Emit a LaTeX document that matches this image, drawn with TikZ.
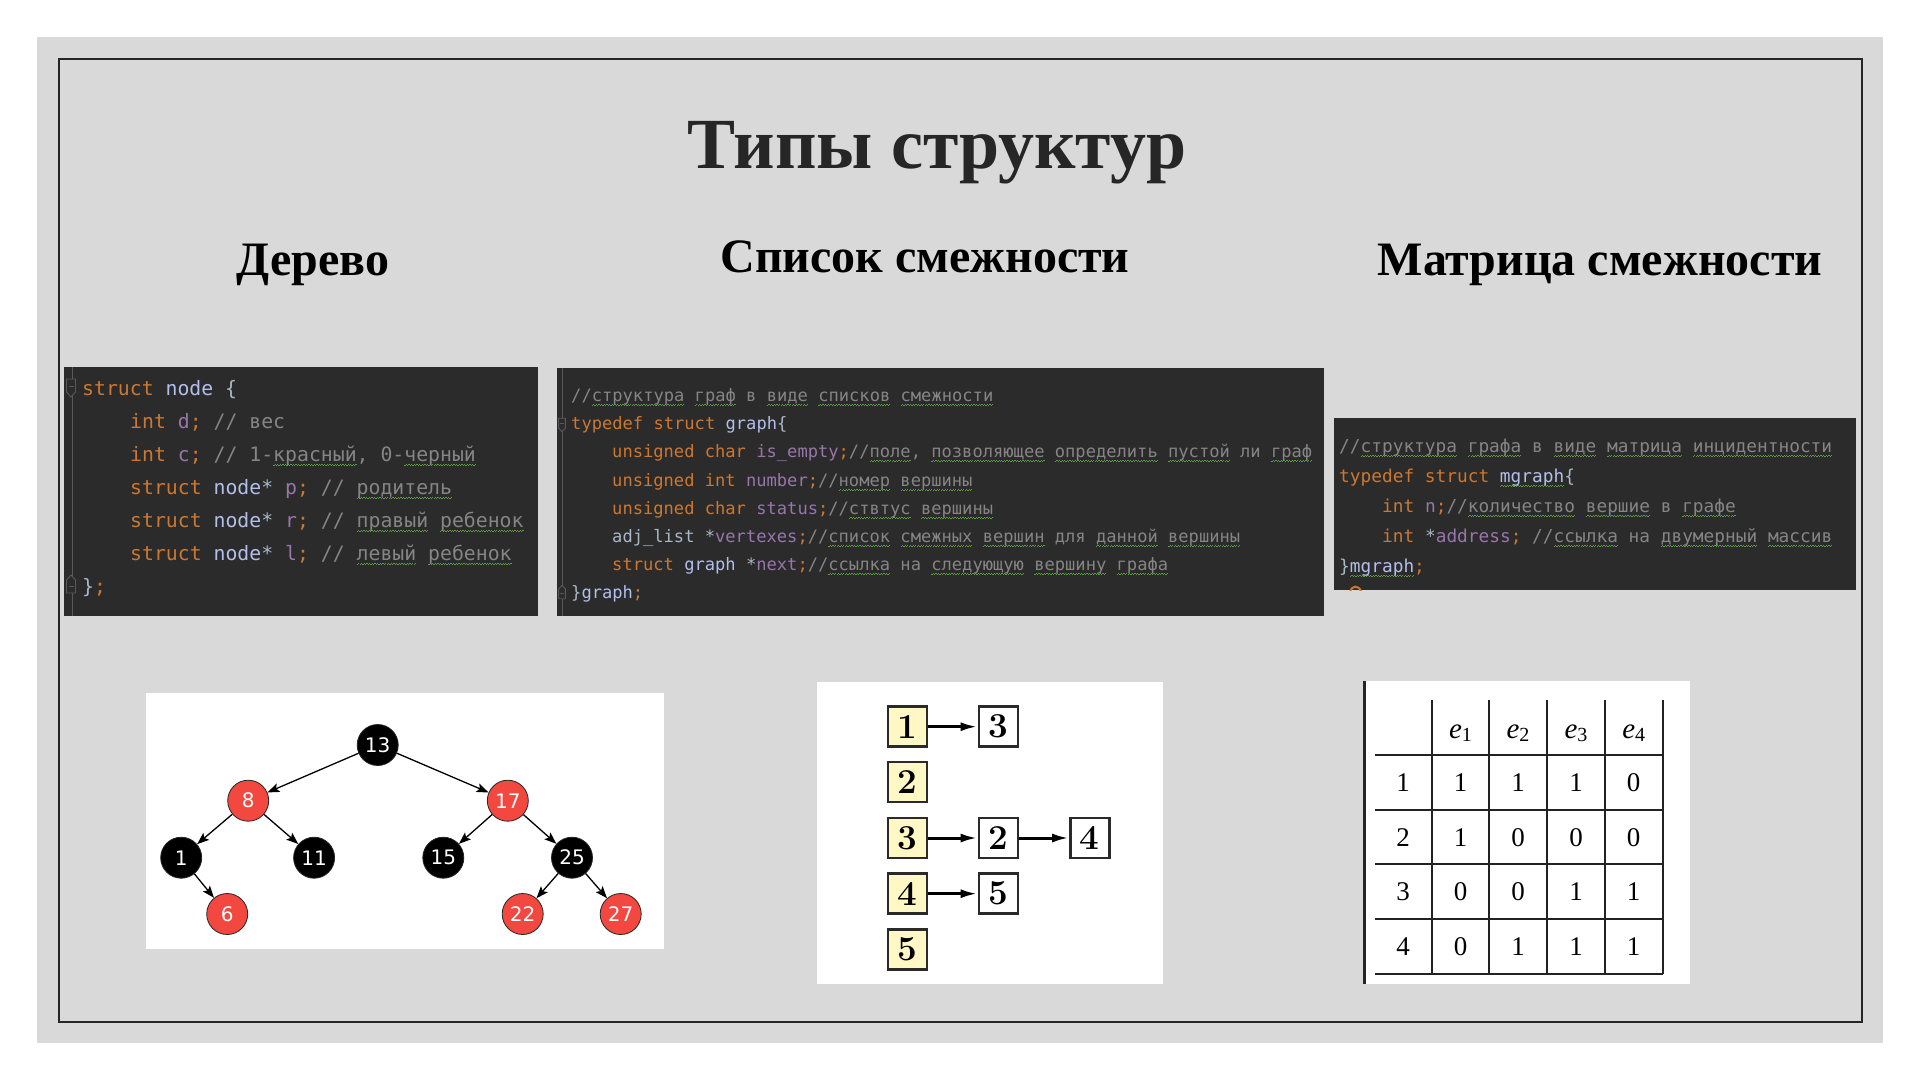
\documentclass[tikz,border=0pt]{standalone}
\usepackage{fontspec}
\usetikzlibrary{arrows.meta}
\newfontfamily\tnr{Liberation Serif}
\newfontfamily\codefont{DejaVu Sans Mono}
\newfontfamily\treefont{DejaVu Sans}
\definecolor{slidegray}{HTML}{D9D9D9}
\definecolor{framecol}{HTML}{262626}
\definecolor{codebg}{HTML}{2B2B2B}
\definecolor{kwc}{HTML}{CC7832}
\definecolor{tyc}{HTML}{B3BFEA}
\definecolor{fdc}{HTML}{9876AA}
\definecolor{cmc}{HTML}{858585}
\definecolor{txc}{HTML}{A9B7C6}
\definecolor{sqc}{HTML}{5F9A45}
\definecolor{gutterc}{HTML}{595959}
\definecolor{treered}{HTML}{F24840}
\definecolor{listyellow}{HTML}{FFF7C4}
\definecolor{boxline}{HTML}{2A2A2A}
\definecolor{gridcol}{HTML}{222222}
% syntax colouring helpers
\newcommand\kw[1]{\textcolor{kwc}{#1}}
\newcommand\ty[1]{\textcolor{tyc}{#1}}
\newcommand\fd[1]{\textcolor{fdc}{#1}}
\newcommand\cm[1]{\textcolor{cmc}{#1}}
\newcommand\tx[1]{\textcolor{txc}{#1}}
% spell-check style wavy underline, built from tiny alternating rules
\newcommand\wavebit{\hbox{\rule[-4.6pt]{1.3pt}{1.1pt}\rule[-3.6pt]{1.3pt}{1.1pt}}}
\newcommand\sq[1]{\setbox0=\hbox{#1}%
  \rlap{\textcolor{sqc}{\hbox to \wd0{\xleaders\wavebit\hfil}}}\box0\relax}
\tikzset{
  codeline/.style={anchor=base west, inner sep=0pt},
  cA/.style={codeline, font=\codefont\fontsize{19.8}{20}\selectfont},
  cB/.style={codeline, font=\codefont\fontsize{17.1}{18}\selectfont},
  cC/.style={codeline, font=\codefont\fontsize{17.8}{18}\selectfont},
  heading/.style={anchor=base, inner sep=0pt, font=\tnr\bfseries\fontsize{48}{50}\selectfont, text=black},
  rb/.style={circle, draw=black!85, line width=0.8pt, fill=treered, minimum size=41pt,
    inner sep=0pt, text=white, font=\treefont\fontsize{20}{20}\selectfont},
  bk/.style={rb, fill=black},
  tedge/.style={line width=1.3pt, -{Stealth[length=12pt,width=9pt,inset=2.5pt]}},
  headbox/.style={draw=boxline, line width=2.5pt, fill=listyellow, minimum width=39pt,
    minimum height=40pt, inner sep=0pt, font=\bfseries\fontsize{35}{35}\selectfont},
  cellbox/.style={headbox, fill=white},
  ledge/.style={line width=3pt, -{Latex[length=17pt,width=9pt]}},
  grid/.style={draw=gridcol, line width=1.8pt},
  num/.style={inner sep=0pt, font=\tnr\fontsize{27}{27}\selectfont},
  foldopen/.pic={
    \filldraw[draw=gutterc, fill=codebg, line width=0.9pt]
      (-4.5,-9) -- (4.5,-9) -- (4.5,4) -- (0,9) -- (-4.5,4) -- cycle;
    \draw[gutterc, line width=0.9pt] (-2.5,-2) -- (2.5,-2);},
  foldclose/.pic={
    \filldraw[draw=gutterc, fill=codebg, line width=0.9pt]
      (-4.5,9) -- (4.5,9) -- (4.5,-4) -- (0,-9) -- (-4.5,-4) -- cycle;
    \draw[gutterc, line width=0.9pt] (-2.5,2) -- (2.5,2);}
}
\begin{document}
\begin{tikzpicture}[x=1pt, y=-1pt]
\useasboundingbox (0,0) rectangle (1920,1080);
\fill[white] (0,0) rectangle (1920,1080);
\fill[slidegray] (37,37) rectangle (1883,1043);
\draw[framecol, line width=2pt] (59,59) rectangle (1862,1022);

% headings
\node[anchor=base, inner sep=0pt, font=\tnr\bfseries\fontsize{72}{76}\selectfont, text=framecol]
  (title) at (937,168) {Типы структур};
\node[heading] (hTree) at (313,275) {Дерево};
\node[heading] (hList) at (925,272) {Список смежности};
\node[heading] (hMat) at (1600,275) {Матрица смежности};

% ---- code: tree node ----
\fill[codebg] (64,367) rectangle (538,616);
\draw[gutterc, line width=1pt] (72,367) -- (72,616);
\pic at (71,388) {foldopen};
\pic at (71,584) {foldclose};
\node[cA] (a1) at (82,395)  {\kw{struct} \ty{node} \tx{\{}};
\node[cA] (a2) at (130,428) {\kw{int} \fd{d}\kw{;} \cm{// вес}};
\node[cA] (a3) at (130,461) {\kw{int} \fd{c}\kw{;} \cm{// 1-\sq{красный}, 0-\sq{черный}}};
\node[cA] (a4) at (130,494) {\kw{struct} \ty{node}\tx{*} \fd{p}\kw{;} \cm{// \sq{родитель}}};
\node[cA] (a5) at (130,527) {\kw{struct} \ty{node}\tx{*} \fd{r}\kw{;} \cm{// \sq{правый} \sq{ребенок}}};
\node[cA] (a6) at (130,560) {\kw{struct} \ty{node}\tx{*} \fd{l}\kw{;} \cm{// \sq{левый} \sq{ребенок}}};
\node[cA] (a7) at (82,593)  {\tx{\}}\kw{;}};

% ---- code: adjacency list ----
\fill[codebg] (557,368) rectangle (1324,616);
\draw[gutterc, line width=1pt] (562,368) -- (562,616);
\pic[scale=0.75] at (562,425) {foldopen};
\pic[scale=0.75] at (562,592) {foldclose};
\node[cB] (b1) at (571,401) {\cm{//\sq{структура} \sq{граф} в \sq{виде} \sq{списков} \sq{смежности}}};
\node[cB] (b2) at (571,429) {\kw{typedef struct} \ty{graph}\tx{\{}};
\node[cB] (b3) at (612,457) {\kw{unsigned char} \fd{is\_empty}\kw{;}\cm{//\sq{поле}, \sq{позволяющее} \sq{определить} \sq{пустой} ли \sq{граф}}};
\node[cB] (b4) at (612,486) {\kw{unsigned int} \fd{number}\kw{;}\cm{//\sq{номер} \sq{вершины}}};
\node[cB] (b5) at (612,514) {\kw{unsigned char} \fd{status}\kw{;}\cm{//\sq{ствтус} \sq{вершины}}};
\node[cB] (b6) at (612,542) {\tx{adj\_list *}\fd{vertexes}\kw{;}\cm{//\sq{список} \sq{смежных} \sq{вершин} для \sq{данной} \sq{вершины}}};
\node[cB] (b7) at (612,570) {\kw{struct} \ty{graph} \tx{*}\fd{next}\kw{;}\cm{//\sq{ссылка} на \sq{следующую} \sq{вершину} \sq{графа}}};
\node[cB] (b8) at (571,598) {\tx{\}}\ty{graph}\kw{;}};

% ---- code: adjacency matrix ----
\fill[codebg] (1334,418) rectangle (1856,590);
\node[cC] (m1) at (1339,452) {\cm{//\sq{структура} \sq{графа} в \sq{виде} \sq{матрица} \sq{инцидентности}}};
\node[cC] (m2) at (1339,482) {\kw{typedef struct} \sq{\ty{mgraph}}\tx{\{}};
\node[cC] (m3) at (1382,512) {\kw{int} \fd{n}\kw{;}\cm{//\sq{количество} \sq{вершие} в \sq{графе}}};
\node[cC] (m4) at (1382,542) {\kw{int} \tx{*}\fd{address}\kw{;} \cm{//\sq{ссылка} на \sq{двумерный} \sq{массив}}};
\node[cC] (m5) at (1339,572) {\tx{\}}\sq{\ty{mgraph}}\kw{;}};
\begin{scope}
  \clip (1334,418) rectangle (1856,590);
  \draw[kwc, line width=2pt] (1350,592) .. controls (1352,585) and (1358,585) .. (1361,591);
\end{scope}

% ---- red-black tree ----
\fill[white] (146,693) rectangle (664,949);
\node[bk] (n13) at (377.7,745) {13};
\node[rb] (n8)  at (248.2,800.7) {8};
\node[rb] (n17) at (507.8,800.7) {17};
\node[bk] (n1)  at (181.2,857.7) {1};
\node[bk] (n11) at (314.1,857.7) {11};
\node[bk] (n15) at (443.3,857.7) {15};
\node[bk] (n25) at (572,857.7) {25};
\node[rb] (n6)  at (227.2,914) {6};
\node[rb] (n22) at (522.7,914) {22};
\node[rb] (n27) at (620.7,914) {27};
\draw[tedge] (n13) -- (n8);
\draw[tedge] (n13) -- (n17);
\draw[tedge] (n8) -- (n1);
\draw[tedge] (n8) -- (n11);
\draw[tedge] (n17) -- (n15);
\draw[tedge] (n17) -- (n25);
\draw[tedge] (n1) -- (n6);
\draw[tedge] (n25) -- (n22);
\draw[tedge] (n25) -- (n27);

% ---- adjacency lists ----
\fill[white] (817,682) rectangle (1163,984);
\node[headbox] (h1) at (907.5,726.7) {1};
\node[headbox] (h2) at (907.5,782.2) {2};
\node[headbox] (h3) at (907.5,838) {3};
\node[headbox] (h4) at (907.5,893.7) {4};
\node[headbox] (h5) at (907.5,949.5) {5};
\node[cellbox] (e13) at (998.3,726.7) {3};
\node[cellbox] (e32) at (998.3,838) {2};
\node[cellbox] (e34) at (1089.8,838) {4};
\node[cellbox] (e45) at (998.3,893.7) {5};
\draw[ledge] (h1) -- (e13);
\draw[ledge] (h3) -- (e32);
\draw[ledge] (e32) -- (e34);
\draw[ledge] (h4) -- (e45);

% ---- incidence matrix ----
\fill[white] (1366,681) rectangle (1690,984);
\draw[black!85, line width=2.7pt] (1364.7,681) -- (1364.7,984);
\foreach \x in {1431.7,1489.3,1547,1604.7,1662.7}
  \draw[grid] (\x,700) -- (\x,974.3);
\foreach \y in {755,810,864.3,919.3,974.3}
  \draw[grid] (1375,\y) -- (1662.7,\y);
\foreach \lbl/\x in {1/1460.5,2/1518,3/1576,4/1633.7}
  \node[anchor=base, inner sep=0pt] (col\lbl) at (\x,738)
    {{\tnr\itshape\fontsize{29}{29}\selectfont e}{\tnr\fontsize{20}{20}\selectfont\raisebox{-3pt}{\lbl}}};
\foreach \r/\y/\a/\b/\c/\d in {1/782.5/1/1/1/0, 2/837.2/1/0/0/0, 3/891.8/0/0/1/1, 4/946.8/0/1/1/1}{
  \node[num] (r\r) at (1403,\y) {\r};
  \node[num] (r\r c1) at (1460.5,\y) {\a};
  \node[num] (r\r c2) at (1518,\y) {\b};
  \node[num] (r\r c3) at (1576,\y) {\c};
  \node[num] (r\r c4) at (1633.7,\y) {\d};
}
\end{tikzpicture}
\end{document}
